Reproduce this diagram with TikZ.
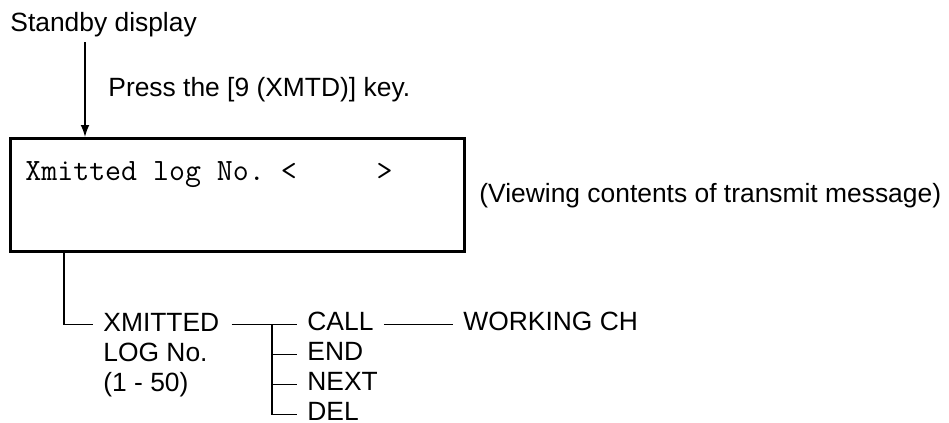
\documentclass[tikz,border=0pt]{standalone}
\usepackage{fontspec}
\setmainfont{Liberation Sans}
\usetikzlibrary{arrows.meta}
\begin{document}
\begin{tikzpicture}[x=0.5pt, y=-0.5pt, >={Latex[length=6pt,width=4.4pt]},
    txt/.style={inner sep=0pt, anchor=base west, font=\fontsize{13.2}{15}\selectfont},
    branch/.style={line width=0.7pt}]
    \useasboundingbox (0,0) rectangle (949,423);

    % 1. Màn hình và mũi tên
    \node[txt] (standby) at (10,32) {Standby display};
    \node[txt] (press) at (108,97) {Press the [9 (XMTD)] key.};
    \node[draw, line width=1.5pt, anchor=north west, minimum width=227pt,
        minimum height=56.5pt] (disp) at (9,137) {};
    \node[txt, font=\fontsize{15.5}{15}\ttfamily\frenchspacing] (screen) at (25,180)
        {Xmitted log No.\ <\ \ \ \ \ >};
    \node[txt] (note) at (479,202) {(Viewing contents of transmit message)};

    \coordinate (top) at (85,42);
    \draw[->, line width=0.7pt] (top) -- (top |- disp.north);

    % 2. Cây menu
    \node[txt, align=left] (xlog) at (103,391) {XMITTED\\LOG No.\\(1 - 50)};
    \node[txt] (call) at (307,330) {CALL};
    \node[txt] (end) at (307,360) {END};
    \node[txt] (next) at (307,390) {NEXT};
    \node[txt] (del) at (307,420) {DEL};
    \node[txt] (work) at (463,330) {WORKING CH};

    \coordinate (fork) at (call.mid west -| 272,0);
    \coordinate (drop) at (disp.south -| 64,0);
    \draw[branch] (drop) |- ([xshift=-5pt]xlog.west |- fork);
    \draw[branch] ([xshift=6pt]xlog.east |- fork) -- ([xshift=-5pt]call.mid west);
    \draw[branch] (fork) |- ([xshift=-5pt]del.mid west);
    \draw[branch] (fork |- end.mid west) -- ([xshift=-5pt]end.mid west);
    \draw[branch] (fork |- next.mid west) -- ([xshift=-5pt]next.mid west);
    \draw[branch] ([xshift=5pt]call.mid east) -- ([xshift=-5pt]work.mid west);
\end{tikzpicture}
\end{document}
